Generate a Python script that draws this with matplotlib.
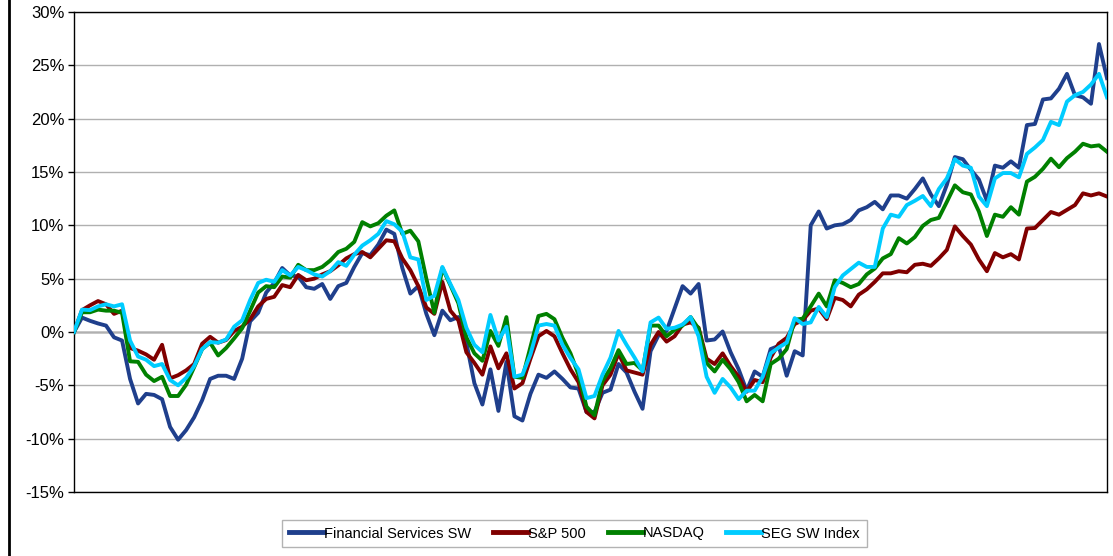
import numpy as np
import matplotlib
matplotlib.use("Agg")
import matplotlib.pyplot as plt
from matplotlib.lines import Line2D
from matplotlib.ticker import FuncFormatter

plt.rcParams['font.family'] = ['Liberation Sans', 'DejaVu Sans']

# Series (return in %, one value per period)
financial_sw = [
    0.0, 1.35, 1.05, 0.8, 0.6, -0.5, -0.8, -4.4, -6.7, -5.8,
    -5.9, -6.3, -8.9, -10.1, -9.2, -8.0, -6.4, -4.4, -4.1, -4.1,
    -4.4, -2.5, 1.0, 1.8, 3.7, 4.6, 6.0, 5.3, 5.2, 4.2,
    4.05, 4.5, 3.1, 4.3, 4.6, 6.1, 7.4, 7.2, 8.2, 9.6,
    9.2, 6.0, 3.6, 4.3, 1.7, -0.3, 2.0, 1.1, 1.4, -1.0,
    -4.8, -6.8, -3.5, -7.4, -2.8, -7.9, -8.3, -5.8, -4.0, -4.3,
    -3.7, -4.4, -5.2, -5.3, -7.5, -7.5, -5.7, -5.4, -3.0, -3.8,
    -5.6, -7.2, -1.8, -0.3, 0.1, 2.2, 4.3, 3.6, 4.5, -0.8,
    -0.7, 0.05, -1.9, -3.5, -5.5, -3.7, -4.2, -1.6, -1.3, -4.1,
    -1.8, -2.2, 10.0, 11.3, 9.7, 10.0, 10.1, 10.5, 11.4, 11.7,
    12.2, 11.5, 12.8, 12.8, 12.5, 13.4, 14.4, 12.9, 11.8, 13.8,
    16.4, 16.2, 15.2, 14.3, 12.3, 15.6, 15.4, 16.0, 15.4, 19.4,
    19.5, 21.8, 21.9, 22.8, 24.2, 22.2, 22.0, 21.4, 27.0, 23.8,
]
sp500 = [
    0.0, 2.05, 2.5, 2.9, 2.6, 1.7, 2.0, -1.5, -1.75, -2.1,
    -2.6, -1.2, -4.35, -4.05, -3.6, -3.0, -1.1, -0.45, -1.0, -0.75,
    0.1, 0.5, 1.2, 2.4, 3.1, 3.3, 4.4, 4.2, 5.35, 4.85,
    5.0, 5.4, 5.7, 6.25, 6.9, 7.3, 7.5, 7.0, 7.8, 8.6,
    8.5, 6.9, 5.8, 4.3, 2.3, 1.7, 4.7, 2.0, 1.1, -1.9,
    -2.9, -4.0, -1.35, -3.4, -2.0, -5.3, -4.8, -2.5, -0.4, 0.1,
    -0.4, -2.0, -3.5, -4.7, -7.5, -8.1, -5.0, -4.0, -2.0, -3.6,
    -3.8, -4.0, -1.2, 0.0, -0.9, -0.4, 0.7, 0.9, 0.4, -2.5,
    -3.0, -2.0, -3.2, -4.2, -5.6, -4.5, -4.7, -2.4, -1.1, -0.55,
    0.75, 1.1, 2.0, 2.2, 1.2, 3.2, 3.0, 2.4, 3.5, 4.0,
    4.7, 5.5, 5.5, 5.7, 5.6, 6.3, 6.4, 6.2, 6.9, 7.7,
    9.9, 9.0, 8.2, 6.8, 5.7, 7.4, 7.0, 7.3, 6.8, 9.7,
    9.75, 10.5, 11.25, 11.0, 11.45, 11.9, 13.0, 12.8, 13.0, 12.7,
]
nasdaq = [
    0.0, 1.85, 1.85, 2.1, 2.0, 2.0, 1.8, -2.75, -2.8, -4.0,
    -4.6, -4.2, -6.0, -6.0, -4.95, -3.3, -1.6, -1.0, -2.2, -1.5,
    -0.6, 0.35, 2.0, 3.7, 4.3, 4.2, 5.2, 5.1, 6.3, 5.8,
    5.8, 6.1, 6.7, 7.5, 7.8, 8.45, 10.3, 9.9, 10.2, 10.9,
    11.4, 9.2, 9.5, 8.5, 5.0, 1.8, 6.0, 4.4, 2.7, -0.5,
    -2.0, -2.7, 0.1, -1.3, 1.4, -4.2, -4.3, -1.4, 1.5, 1.7,
    1.2, -0.55, -2.0, -4.0, -7.0, -7.8, -4.6, -3.4, -1.7, -3.0,
    -2.9, -3.6, 0.6, 0.6, -0.4, 0.2, 0.6, 1.4, 0.3, -2.9,
    -3.7, -2.6, -3.5, -4.7, -6.5, -5.9, -6.5, -3.0, -2.5, -1.6,
    1.15, 1.25, 2.4, 3.6, 2.4, 4.85, 4.6, 4.2, 4.5, 5.4,
    5.95, 6.9, 7.3, 8.8, 8.3, 8.9, 9.95, 10.5, 10.7, 12.2,
    13.75, 13.1, 12.9, 11.3, 9.0, 11.0, 10.8, 11.7, 11.0, 14.1,
    14.55, 15.3, 16.25, 15.45, 16.3, 16.9, 17.65, 17.4, 17.5, 16.9,
]
seg_sw_index = [
    0.0, 2.1, 2.05, 2.4, 2.6, 2.4, 2.6, -0.8, -2.3, -2.6,
    -3.2, -3.0, -4.5, -5.0, -4.3, -3.2, -1.6, -0.95, -1.0, -0.7,
    0.5, 1.1, 3.0, 4.6, 4.9, 4.7, 5.8, 5.3, 6.1, 5.8,
    5.4, 5.2, 5.7, 6.55, 6.2, 7.25, 8.1, 8.6, 9.2, 10.4,
    10.1, 9.4, 7.0, 6.8, 3.0, 3.4, 6.1, 4.5, 3.0, 0.4,
    -1.2, -1.9, 1.6, -0.8, 0.5, -4.2, -4.0, -2.1, 0.6, 0.75,
    0.6, -1.2, -2.45, -3.5, -6.2, -6.0, -4.0, -2.4, 0.1, -1.2,
    -2.4, -3.7, 0.9, 1.35, 0.3, 0.4, 0.7, 1.4, -0.4, -4.2,
    -5.7, -4.4, -5.2, -6.3, -5.5, -5.5, -4.2, -2.0, -1.45, -1.0,
    1.3, 0.75, 0.9, 2.35, 1.4, 4.2, 5.3, 5.9, 6.5, 6.1,
    6.1, 9.7, 11.0, 10.8, 11.9, 12.3, 12.75, 11.8, 13.4, 14.4,
    16.2, 15.6, 15.4, 12.7, 11.8, 14.4, 14.9, 14.9, 14.5, 16.7,
    17.3, 18.0, 19.7, 19.4, 21.6, 22.2, 22.5, 23.2, 24.2, 22.0,
]

series_names = ['Financial Services SW', 'S&P 500', 'NASDAQ', 'SEG SW Index']
series_colors = ['#1f3f8c', '#800000', '#008000', '#00ccff']
y_ticks = [-15, -10, -5, 0, 5, 10, 15, 20, 25, 30]

periods = np.arange(len(financial_sw))

fig = plt.figure(figsize=(11.13, 5.56), dpi=100)
ax = fig.add_axes([74 / 1113, 1 - 492 / 556, (1107 - 74) / 1113, (492 - 12) / 556])

for values, name, color in zip([financial_sw, sp500, nasdaq, seg_sw_index],
                               series_names, series_colors):
    ax.plot(periods, values, color=color, linewidth=2.8, label=name,
            solid_joinstyle='round', zorder=3)

ax.set_xlim(periods[0], periods[-1])
ax.set_ylim(-15, 30)
ax.set_yticks(y_ticks)
ax.yaxis.set_major_formatter(FuncFormatter(lambda v, p: f"{v:.0f}%"))
ax.set_xticks([])
ax.grid(axis='y', color='#b0b0b0', linewidth=1.0, zorder=0)
ax.axhline(0, color='black', linewidth=1.0, zorder=1)
ax.tick_params(axis='y', labelsize=12, length=4, width=1, pad=3)
for sp in ax.spines.values():
    sp.set_linewidth(1.0)
    sp.set_color('black')

leg = fig.legend(loc='center', bbox_to_anchor=(574.5 / 1113, 1 - 533.5 / 556),
                 ncol=4, fontsize=10.5, frameon=True, fancybox=False,
                 handlelength=2.4, handletextpad=0.0, columnspacing=1.5,
                 borderpad=0.45)
leg.get_frame().set_edgecolor('#a0a0a0')
leg.get_frame().set_linewidth(1.0)
for line in leg.get_lines():
    line.set_linewidth(3.5)

# black rule on the left edge of the picture
fig.add_artist(Line2D([8.5 / 1113, 8.5 / 1113], [0, 1], color='black', linewidth=2))

fig.savefig('out.png', dpi=100)
